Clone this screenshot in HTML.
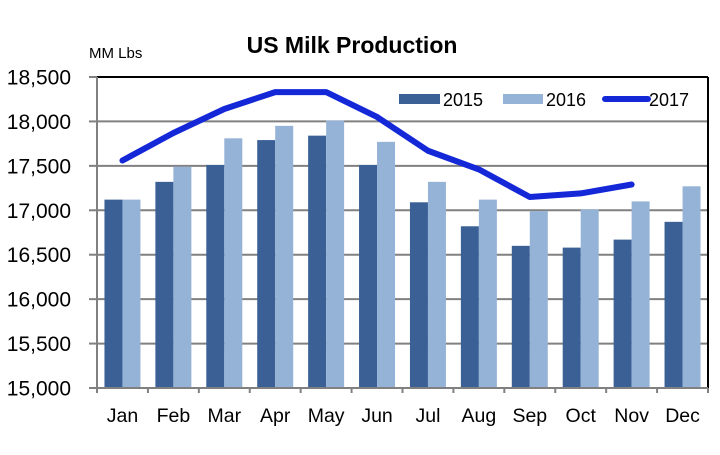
<!DOCTYPE html>
<html><head><meta charset="utf-8"><style>
body{margin:0;background:#fff;width:720px;height:450px;overflow:hidden;font-family:"Liberation Sans",sans-serif}
</style></head><body>
<svg id="chart" width="720" height="450" xmlns="http://www.w3.org/2000/svg">
<text x="352" y="53" text-anchor="middle" font-size="23" font-weight="bold">US Milk Production</text>
<text x="89" y="58" font-size="15">MM Lbs</text>
<g id="grid"></g><g id="bars"></g><g id="line"></g><g id="axes"></g>
<g>
<rect x="399" y="94" width="41" height="10" fill="#3a6096"/>
<text x="443" y="106" font-size="18">2015</text>
<rect x="503" y="94" width="40" height="10" fill="#95b3d7"/>
<text x="546" y="106" font-size="18">2016</text>
<line x1="605" y1="99" x2="648" y2="99" stroke="#1428d8" stroke-width="6" stroke-linecap="round"/>
<text x="649" y="106" font-size="18">2017</text>
</g>
</svg>
<script>
const months=["Jan","Feb","Mar","Apr","May","Jun","Jul","Aug","Sep","Oct","Nov","Dec"];
const s2015=[17120,17320,17510,17790,17840,17510,17090,16820,16600,16580,16670,16870];
const s2016=[17120,17490,17810,17950,18010,17770,17320,17120,16990,17010,17100,17270];
const s2017=[17560,17870,18140,18330,18330,18050,17670,17460,17150,17190,17290];
const yTicks=[15000,15500,16000,16500,17000,17500,18000,18500];
{
const L=97,R=708,T=77,B=388,ymin=15000,ymax=18500;
const NS="http://www.w3.org/2000/svg";
const bw=(R-L)/12;
function y(v){return B-(v-ymin)/(ymax-ymin)*(B-T);}
function xc(i){return L+bw*(i+0.5);}
function mk(tag,attrs,parent){const e=document.createElementNS(NS,tag);for(const k in attrs)e.setAttribute(k,attrs[k]);document.getElementById(parent).appendChild(e);return e;}
yTicks.forEach(v=>{
  if(v>ymin&&v<ymax){const g=mk('line',{x1:L,x2:R,y1:y(v),y2:y(v),stroke:'#808080','stroke-width':2},'grid');
  
  }
  const t=mk('text',{x:71,y:y(v)+7.5,'text-anchor':'end','font-size':21},'axes');t.textContent=v.toLocaleString('en-US');
  
  
  const tk=mk('line',{x1:L-8,x2:L,y1:y(v),y2:y(v),stroke:'#808080','stroke-width':2},'axes');
  
  
});
months.forEach((m,i)=>{
  const b1=mk('rect',{x:xc(i)-18,y:y(s2015[i]),width:18,height:B-y(s2015[i]),fill:'#3a6096'},'bars');
  
  
  const b2=mk('rect',{x:xc(i),y:y(s2016[i]),width:18,height:B-y(s2016[i]),fill:'#95b3d7'},'bars');
  
  
  const t=mk('text',{x:xc(i),y:422,'text-anchor':'middle','font-size':19.5},'axes');t.textContent=m;
  
  
});
for(let i=0;i<=12;i++){const tk=mk('line',{x1:L+bw*i,x2:L+bw*i,y1:B,y2:B+5,stroke:'#808080','stroke-width':2},'axes');
  
  }
const pl=mk('polyline',{points:s2017.map((v,i)=>xc(i)+','+y(v)).join(' '),fill:'none',stroke:'#1428d8','stroke-width':6,'stroke-linejoin':'round','stroke-linecap':'round'},'line');


const topBorder=mk('line',{x1:L,x2:R,y1:T,y2:T,stroke:'#000','stroke-width':2},'axes');


const rb=mk('line',{x1:R,x2:R,y1:T,y2:B,stroke:'#000','stroke-width':2},'axes');


const la=mk('line',{x1:L,x2:L,y1:T,y2:B,stroke:'#808080','stroke-width':2},'axes');


const ba=mk('line',{x1:L,x2:R,y1:B,y2:B,stroke:'#808080','stroke-width':2},'axes');


}
</script>
</body></html>
